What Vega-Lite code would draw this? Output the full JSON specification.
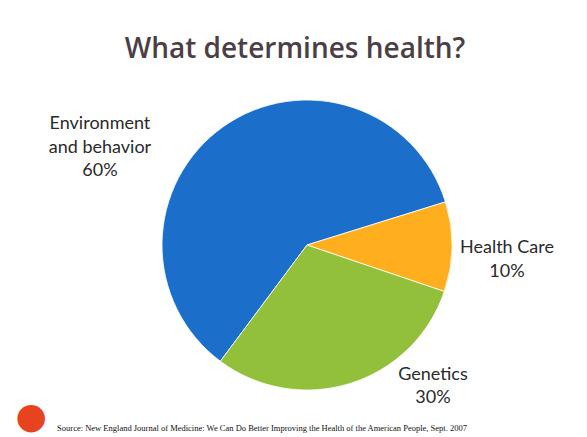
{
  "$schema": "https://vega.github.io/schema/vega-lite/v6.json",
  "width": 560,
  "height": 384,
  "autosize": "none",
  "padding": {"left": 27, "top": 53, "right": 0, "bottom": 0},
  "background": "white",
  "config": {"view": {"stroke": null}},
  "title": {
    "text": "What determines health?",
    "font": "Open Sans",
    "fontWeight": 600,
    "fontSize": 28,
    "color": "#4B3F46",
    "anchor": "middle",
    "frame": "group",
    "dx": -12,
    "offset": -33,
    "baseline": "alphabetic"
  },
  "datasets": {
    "shares": [
      {"category": "Environment and behavior", "value": 60, "label": "Environment\nand behavior\n60%"},
      {"category": "Health Care", "value": 10, "label": "Health Care\n10%"},
      {"category": "Genetics", "value": 30, "label": "Genetics\n30%"}
    ],
    "notes": [
      {"value": 100, "source": "Source: New England Journal of Medicine: We Can Do Better Improving the Health of the American People, Sept. 2007", "badge": "●"}
    ]
  },
  "data": {"name": "shares"},
  "encoding": {
    "theta": {"field": "value", "type": "quantitative", "stack": true, "scale": {"range": [1.2689, 7.5521]}},
    "order": {"field": "value", "type": "quantitative", "sort": "ascending"}
  },
  "layer": [
    {
      "mark": {"type": "arc", "outerRadius": 145, "stroke": "#ffffff", "strokeWidth": 0.8},
      "encoding": {
        "color": {
          "field": "category",
          "type": "nominal",
          "scale": {"domain": ["Environment and behavior", "Health Care", "Genetics"], "range": ["#1B6FCB", "#FFAE1E", "#92C03B"]},
          "legend": null
        }
      }
    },
    {
      "mark": {"type": "text", "radius": 239.8, "thetaOffset": -0.426, "font": "Lato", "fontSize": 18, "fill": "#2a2a2a", "align": "center", "baseline": "middle", "lineBreak": "\n", "lineHeight": 23.5},
      "encoding": {"text": {"condition": {"test": "datum.category === 'Environment and behavior'", "field": "label", "type": "nominal"}, "value": ""}}
    },
    {
      "mark": {"type": "text", "radius": 200, "thetaOffset": 0.003, "font": "Lato", "fontSize": 18, "fill": "#2a2a2a", "align": "center", "baseline": "middle", "lineBreak": "\n", "lineHeight": 23.5},
      "encoding": {"text": {"condition": {"test": "datum.category === 'Health Care'", "field": "label", "type": "nominal"}, "value": ""}}
    },
    {
      "mark": {"type": "text", "radius": 181, "thetaOffset": -0.468, "font": "Lato", "fontSize": 18, "fill": "#2a2a2a", "align": "center", "baseline": "middle", "lineBreak": "\n", "lineHeight": 23.5},
      "encoding": {"text": {"condition": {"test": "datum.category === 'Genetics'", "field": "label", "type": "nominal"}, "value": ""}}
    },
    {
      "data": {"name": "notes"},
      "mark": {"type": "text", "radius": 188.5, "thetaOffset": -1.028, "font": "Liberation Serif", "fontSize": 8.5, "fill": "#111111", "align": "center", "baseline": "middle"},
      "encoding": {"text": {"field": "source", "type": "nominal"}}
    },
    {
      "data": {"name": "notes"},
      "mark": {"type": "text", "radius": 325, "thetaOffset": -0.255, "font": "DejaVu Sans", "fontSize": 36, "fill": "#E6431E", "align": "center", "baseline": "middle"},
      "encoding": {"text": {"field": "badge", "type": "nominal"}}
    }
  ]
}
